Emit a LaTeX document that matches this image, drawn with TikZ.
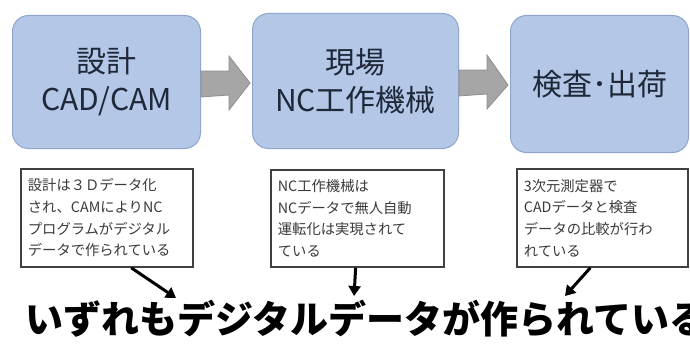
\documentclass[tikz,border=0pt]{standalone}
\usepackage{fontspec}
\setmainfont{Noto Sans CJK JP}
\newfontfamily\jp{Noto Sans CJK JP}
\usetikzlibrary{calc,arrows.meta}
\definecolor{boxfill}{HTML}{B4C7E7}
\definecolor{boxline}{HTML}{8FA5CC}
\definecolor{boxtext}{HTML}{1E2838}
\definecolor{arrfill}{HTML}{A6A6A6}
\definecolor{arrline}{HTML}{8E8E8E}
\definecolor{notetext}{HTML}{3A3A3A}
\begin{document}
\begin{tikzpicture}[x=1pt,y=-1pt,
  stagebox/.style={draw=boxline, line width=1pt, fill=boxfill, rounded corners=16pt,
    anchor=north west, inner sep=0pt, text=boxtext, align=center,
    font=\jp\fontsize{30}{38}\selectfont},
  notebox/.style={draw=black!75, line width=1.8pt, fill=white, anchor=north west,
    inner xsep=7pt, inner ysep=0pt, align=left, text=notetext,
    font=\jp\fontsize{14.3}{21.7}\selectfont},
  blockarrow/.style={fill=arrfill, draw=arrline, line width=0.8pt},
  pointer/.style={line width=3pt, -{Triangle[length=10pt,width=12pt]}}]
\useasboundingbox (0,0) rectangle (690,345);
\fill[white] (0,0) rectangle (690,345);

% stage boxes
\node[stagebox, minimum width=188pt, minimum height=133pt] (b1) at (12,15) {設計\\CAD/CAM};
\node[stagebox, minimum width=206pt, minimum height=135pt] (b2) at (252,13) {現場\\NC工作機械};
\node[stagebox, minimum width=178pt, minimum height=137pt] (b3) at (510,15) {検査･出荷};

% block arrows
\path[blockarrow] ($(b1.east)+(0,-11)$) -- ++(28,0) -- ++(0,-15) -- ($(b2.west)+(-2,2)$)
  -- ($(b1.east)+(28,28)$) -- ++(0,-15) -- ($(b1.east)+(0,15)$) -- cycle;
\path[blockarrow] ($(b2.east)+(0,-11)$) -- ++(28,0) -- ++(0,-15) -- ($(b3.west)+(-2,1)$)
  -- ($(b2.east)+(28,28)$) -- ++(0,-15) -- ($(b2.east)+(0,15)$) -- cycle;

% note boxes
\node[notebox, minimum width=172pt, minimum height=98pt, text width=158pt] (n1) at (20,168)
  {設計は３Ｄデータ化\\され、CAMによりNC\\プログラムがデジタル\\データで作られている};
\node[notebox, minimum width=173pt, minimum height=97pt, text width=159pt] (n2) at (270,169)
  {NC工作機械は\\NCデータで無人自動\\運転化は実現されて\\ている};
\node[notebox, minimum width=171pt, minimum height=98pt, text width=157pt] (n3) at (516,168)
  {3次元測定器で\\CADデータと検査\\データの比較が行わ\\れている};

% summary text
\node[anchor=west, inner sep=0pt, font=\jp\bfseries\fontsize{38}{40}\selectfont] (sum) at (25,319)
  {いずれもデジタルデータが作られている};

% pointers
\coordinate (t1) at (176,298);
\coordinate (t2) at (354,296);
\coordinate (t3) at (565,296);
\draw[pointer] ($(n1.south west)!0.64!(n1.south east)$) -- (t1);
\draw[pointer] ($(n2.south west)!0.49!(n2.south east)$) -- (t2);
\draw[pointer] ($(n3.south west)!0.43!(n3.south east)$) -- (t3);
\end{tikzpicture}
\end{document}
